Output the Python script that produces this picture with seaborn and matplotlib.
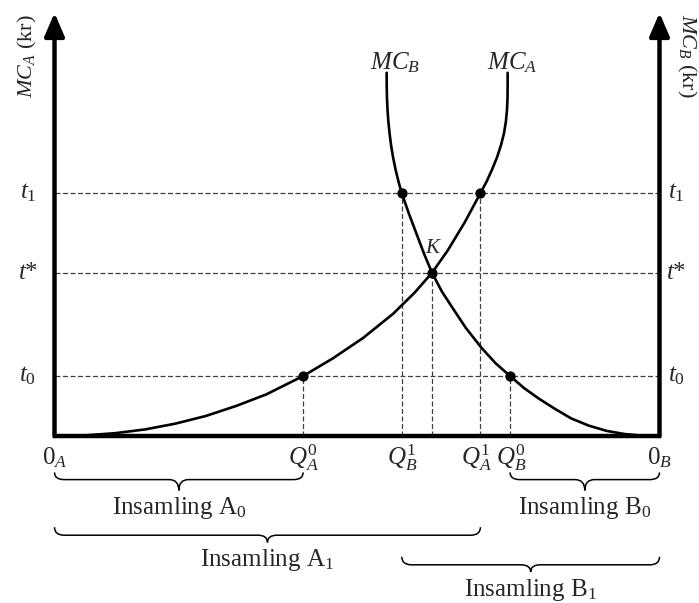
import numpy as np
import matplotlib
matplotlib.use('Agg')
import matplotlib.pyplot as plt
from matplotlib.path import Path
from matplotlib.patches import PathPatch
import seaborn as sns

# price levels (kr) and quantities
t_levels = {'t0': 15.0, 'tstar': 40.8, 't1': 60.7}
q_a0, q_b1, q_k, q_a1, q_b0 = 41.1, 57.4, 62.4, 70.4, 75.3

# MC_A, measured from 0_A
mca_q = [0, 5, 10, 15, 20, 25, 30, 35, 41.1, 46, 51, 56, 59.5, 62.4, 65, 67.8, 70.4,
         71.45, 72.35, 73.15, 73.8, 74.3, 74.62, 74.8, 74.88, 74.9, 74.9]
mca_p = [0, 0.15, 0.7, 1.65, 3.1, 5.0, 7.5, 10.4, 15.0, 19.4, 24.5, 30.6, 35.8, 40.8, 46.4, 53.4, 60.7,
         63.7, 66.7, 69.7, 72.7, 75.7, 78.7, 81.7, 84.7, 87.7, 90.8]
# MC_B, drawn in the same box (measured from 0_A, falls towards 0_B)
mcb_q = [54.9, 54.91, 54.95, 55.04, 55.18, 55.38, 55.63, 55.96, 56.36, 56.84, 57.4,
         58.6, 59.9, 61.1, 62.4, 64.0, 65.8, 68.0, 70.6, 72.9, 75.3, 77.6, 80.0,
         82.7, 85.4, 88.3, 91.2, 94.2, 96.8, 99.0]
mcb_p = [90.8, 87.7, 84.7, 81.7, 78.7, 75.7, 72.7, 69.7, 66.7, 63.7, 60.7,
         55.5, 50.3, 45.5, 40.8, 36.2, 32.0, 27.0, 22.0, 18.2, 15.0, 12.0, 9.4,
         6.8, 4.4, 2.6, 1.3, 0.5, 0.12, 0]

dot_q = [q_a0, q_b0, q_k, q_b1, q_a1]
dot_p = [15.0, 15.0, 40.8, 60.7, 60.7]

sns.set_style('white')
plt.rcParams['font.family'] = ['Liberation Serif', 'DejaVu Serif']
plt.rcParams['mathtext.fontset'] = 'custom'
plt.rcParams['mathtext.rm'] = 'Liberation Serif'
plt.rcParams['mathtext.it'] = 'Liberation Serif:italic'

fig = plt.figure(figsize=(6.99, 6.03), dpi=100)
ax = fig.add_axes([0, 0, 1, 1])
ax.set_xlim(-9.01, 106.53)
ax.set_ylim(-41.75, 109)
ax.axis('off')

dash = dict(color='#404040', lw=0.9, linestyle=(0, (4, 2)), zorder=1)
for v in t_levels.values():
    ax.plot([0, 100], [v, v], **dash)
for q, v in zip(dot_q, dot_p):
    ax.plot([q, q], [0, v], **dash)

sns.lineplot(x=mca_q, y=mca_p, sort=False, estimator=None, color='black', lw=1.9, ax=ax, zorder=3)
sns.lineplot(x=mcb_q, y=mcb_p, sort=False, estimator=None, color='black', lw=1.9, ax=ax, zorder=3)
sns.scatterplot(x=dot_q, y=dot_p, s=55, color='black', edgecolor='black', linewidth=0, ax=ax, zorder=5)

# axes of the box
ax.plot([0, 100], [0, 0], color='black', lw=3.2, solid_capstyle='projecting', zorder=4)
for xq in (0, 100):
    ax.annotate('', xy=(xq, 105.8), xytext=(xq, 0),
                arrowprops=dict(arrowstyle='-|>,head_length=0.7,head_width=0.3',
                                mutation_scale=20, lw=3.2, color='black',
                                shrinkA=0, shrinkB=0), zorder=4)

fs = 18
t_names = {'t0': r'$t_{\mathit{0}}$', 'tstar': r'$t$*', 't1': r'$t_{\mathit{1}}$'}
for key, v in t_levels.items():
    ax.text(-4.4, v, t_names[key], fontsize=fs, ha='center', va='center')
    ax.text(102.8, v, t_names[key], fontsize=fs, ha='center', va='center')

q_labels = [(0, r'$\mathit{0}_A$'), (q_a0, r'$Q_A^{\mathit{0}}$'), (q_b1, r'$Q_B^{\mathit{1}}$'),
            (q_a1 - 0.6, r'$Q_A^{\mathit{1}}$'), (q_b0 + 0.2, r'$Q_B^{\mathit{0}}$'), (100, r'$\mathit{0}_B$')]
for q, s in q_labels:
    ax.text(q, -5.3, s, fontsize=fs, ha='center', va='center')

ax.text(56.3, 93.3, r'$MC_B$', fontsize=fs, ha='center', va='center')
ax.text(75.6, 93.3, r'$MC_A$', fontsize=fs, ha='center', va='center')
ax.text(62.6, 46.8, r'$K$', fontsize=15, ha='center', va='center')
ax.text(-4.4, 95, r'$MC_A$ (kr)', fontsize=16, ha='center', va='center', rotation=90)
ax.text(104.5, 95, r'$MC_B$ (kr)', fontsize=16, ha='center', va='center', rotation=270)


def brace(x0, x1, ytop, ymid, ytip, r=1.6):
    xm = (x0 + x1) / 2
    verts = [(x0, ytop), (x0, ymid), (x0 + r, ymid), (xm - r, ymid),
             (xm, ymid), (xm, ytip), (xm, ymid), (xm + r, ymid),
             (x1 - r, ymid), (x1, ymid), (x1, ytop)]
    codes = [Path.MOVETO, Path.CURVE3, Path.CURVE3, Path.LINETO,
             Path.CURVE3, Path.CURVE3, Path.CURVE3, Path.CURVE3,
             Path.LINETO, Path.CURVE3, Path.CURVE3]
    ax.add_patch(PathPatch(Path(verts, codes), fill=False, lw=1.1, color='black'))


braces = [(0, q_a0, -9.1, -10.9, -13.6, 'Insamling A$_0$', -18.0),
          (q_b0, 100, -9.1, -10.9, -13.6, 'Insamling B$_0$', -18.0),
          (0, q_a1, -22.8, -24.8, -26.6, 'Insamling A$_1$', -31.0),
          (q_b1, 100, -30.2, -32.2, -34.0, 'Insamling B$_1$', -38.4)]
for x0, x1, yt, ym, yp, lab, ty in braces:
    brace(x0, x1, yt, ym, yp)
    ax.text((x0 + x1) / 2, ty, lab, fontsize=fs, ha='center', va='center')

fig.savefig('out.png', dpi=100)
